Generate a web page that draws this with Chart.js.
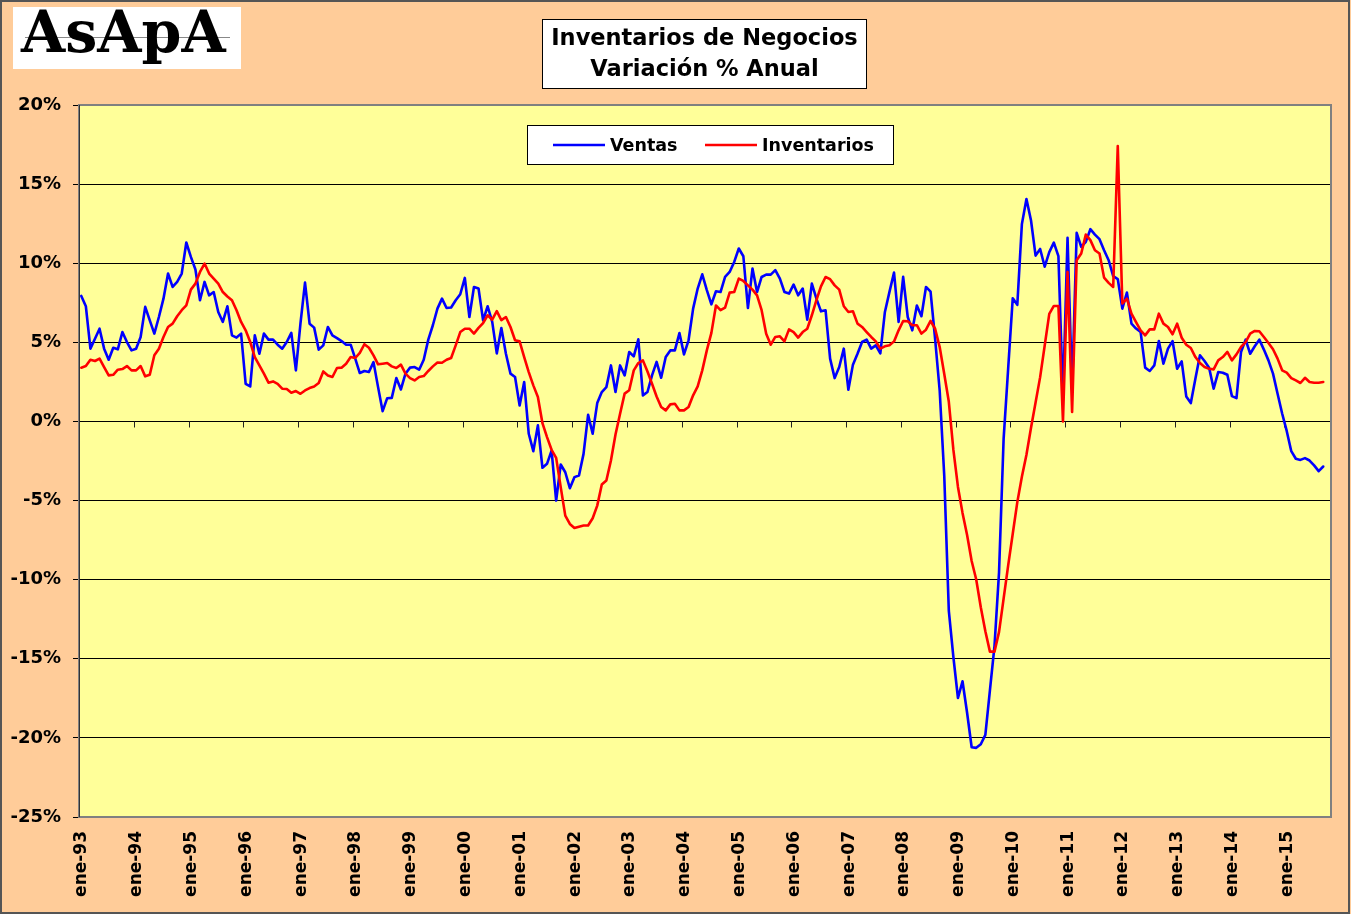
<!DOCTYPE html>
<html lang="es">
<head>
<meta charset="utf-8">
<title>Inventarios de Negocios</title>
<script src="https://cdn.jsdelivr.net/npm/chart.js@4.4.1/dist/chart.umd.min.js"></script>
<style>
  html, body { margin: 0; padding: 0; background: #FFCC99; }
  #grafico { display: block; }
</style>
</head>
<body>
<canvas id="grafico" width="1351" height="914"></canvas>
<script>
// Etiquetas del eje X (una por año, en enero)
const etiquetasAnio = ['ene-93', 'ene-94', 'ene-95', 'ene-96', 'ene-97', 'ene-98', 'ene-99', 'ene-00',
    'ene-01', 'ene-02', 'ene-03', 'ene-04', 'ene-05', 'ene-06', 'ene-07', 'ene-08', 'ene-09', 'ene-10',
    'ene-11', 'ene-12', 'ene-13', 'ene-14', 'ene-15'];

// Variación % anual mensual, ene-93 a sep-15 (una fila por año)
const ventas = [
    7.93, 7.28, 4.6, 5.23, 5.86, 4.6, 3.9, 4.66, 4.56, 5.65, 5.02, 4.49,
    4.6, 5.34, 7.24, 6.39, 5.55, 6.6, 7.76, 9.35, 8.5, 8.82, 9.35, 11.31,
    10.4, 9.6, 7.66, 8.82, 7.97, 8.18, 6.92, 6.29, 7.28, 5.44, 5.3, 5.55,
    2.38, 2.21, 5.44, 4.28, 5.55, 5.17, 5.17, 4.85, 4.6, 5.02, 5.6, 3.23,
    6.18, 8.78, 6.18, 5.93, 4.54, 4.81, 5.97, 5.44, 5.27, 5.08, 4.85, 4.85,
    3.97, 3.06, 3.19, 3.12, 3.75, 2.17, 0.65, 1.47, 1.49, 2.74, 2.02, 3.02,
    3.4, 3.44, 3.27, 3.9, 5.17, 6.08, 7.13, 7.76, 7.17, 7.2, 7.66, 8.04,
    9.07, 6.6, 8.5, 8.4, 6.39, 7.28, 6.29, 4.3, 5.9, 4.28, 3.02, 2.81,
    1.01, 2.49, -0.78, -1.88, -0.25, -2.93, -2.68, -1.84, -5.0, -2.72, -3.21, -4.22,
    -3.52, -3.42, -2.05, 0.42, -0.78, 1.16, 1.86, 2.17, 3.54, 1.86, 3.54, 2.91,
    4.39, 4.11, 5.19, 1.65, 1.86, 2.91, 3.76, 2.76, 4.07, 4.49, 4.49, 5.59,
    4.24, 5.13, 7.13, 8.4, 9.3, 8.3, 7.4, 8.23, 8.18, 9.13, 9.45, 10.08,
    10.93, 10.44, 7.17, 9.66, 8.18, 9.13, 9.28, 9.28, 9.56, 9.03, 8.18, 8.08,
    8.65, 7.97, 8.4, 6.43, 8.71, 7.76, 6.96, 7.03, 3.97, 2.74, 3.44, 4.6,
    2.0, 3.59, 4.28, 5.02, 5.17, 4.6, 4.81, 4.3, 6.92, 8.19, 9.41, 6.29,
    9.14, 6.6, 5.76, 7.33, 6.65, 8.5, 8.2, 5.2, 1.94, -3.44, -11.98, -14.9,
    -17.48, -16.42, -18.41, -20.59, -20.63, -20.4, -19.81, -17.0, -14.2, -9.52, -1.1, 3.35,
    7.79, 7.37, 12.47, 14.06, 12.7, 10.48, 10.9, 9.78, 10.7, 11.3, 10.45, 1.5,
    11.6, 2.0, 11.92, 11.03, 11.35, 12.15, 11.81, 11.52, 10.82, 10.19, 9.18, 9.0,
    7.13, 8.15, 6.18, 5.87, 5.66, 3.4, 3.19, 3.54, 5.08, 3.65, 4.6, 5.08,
    3.33, 3.8, 1.58, 1.16, 2.7, 4.18, 3.82, 3.4, 2.07, 3.12, 3.08, 2.95,
    1.6, 1.47, 4.39, 5.17, 4.28, 4.75, 5.17, 4.54, 3.86, 3.02, 1.75, 0.5,
    -0.6, -1.88, -2.36, -2.43, -2.32, -2.47, -2.78, -3.14, -2.85
];

const inventarios = [
    3.4, 3.5, 3.9, 3.82, 3.97, 3.44, 2.91, 2.95, 3.27, 3.31, 3.5, 3.23,
    3.23, 3.5, 2.85, 2.95, 4.18, 4.6, 5.34, 5.97, 6.18, 6.65, 7.03, 7.34,
    8.33, 8.71, 9.45, 9.98, 9.35, 9.03, 8.71, 8.18, 7.9, 7.66, 7.03, 6.29,
    5.76, 5.02, 4.07, 3.54, 3.02, 2.45, 2.53, 2.38, 2.07, 2.05, 1.81, 1.92,
    1.75, 1.96, 2.11, 2.21, 2.43, 3.16, 2.91, 2.81, 3.38, 3.4, 3.65, 4.07,
    4.01, 4.33, 4.88, 4.66, 4.18, 3.61, 3.65, 3.69, 3.48, 3.38, 3.59, 3.02,
    2.74, 2.59, 2.81, 2.87, 3.19, 3.48, 3.73, 3.71, 3.9, 4.01, 4.81, 5.65,
    5.86, 5.86, 5.55, 5.91, 6.22, 6.71, 6.43, 6.97, 6.4, 6.6, 5.97, 5.13,
    5.06, 4.07, 3.12, 2.28, 1.54, -0.11, -0.99, -1.79, -2.3, -4.15, -5.95, -6.48,
    -6.73, -6.65, -6.58, -6.58, -6.12, -5.32, -3.99, -3.73, -2.47, -0.82, 0.49, 1.76,
    1.97, 3.23, 3.69, 3.86, 3.16, 2.38, 1.58, 0.91, 0.7, 1.08, 1.12, 0.7,
    0.7, 0.91, 1.65, 2.22, 3.23, 4.49, 5.6, 7.33, 7.03, 7.2, 8.14, 8.18,
    9.03, 8.88, 8.6, 8.33, 7.97, 7.03, 5.55, 4.85, 5.34, 5.38, 5.06, 5.82,
    5.65, 5.3, 5.65, 5.86, 6.71, 7.66, 8.54, 9.13, 8.99, 8.6, 8.33, 7.28,
    6.92, 6.96, 6.18, 5.97, 5.65, 5.34, 5.06, 4.6, 4.75, 4.81, 5.06, 5.76,
    6.35, 6.33, 6.08, 6.08, 5.55, 5.8, 6.35, 5.86, 4.7, 3.0, 1.24, -1.8,
    -4.14, -5.78, -7.18, -8.82, -9.99, -11.74, -13.26, -14.55, -14.55, -13.3, -11.2, -9.1,
    -7.1, -5.1, -3.5, -2.1, -0.4, 1.2, 2.8, 4.8, 6.8, 7.3, 7.3, 0.0,
    9.45, 0.6, 10.19, 10.61, 11.81, 11.46, 10.82, 10.61, 9.09, 8.76, 8.5, 17.4,
    7.45, 7.76, 6.81, 6.28, 5.76, 5.44, 5.82, 5.82, 6.81, 6.18, 5.97, 5.51,
    6.18, 5.29, 4.85, 4.64, 4.07, 3.69, 3.44, 3.33, 3.29, 3.86, 4.07, 4.39,
    3.86, 4.24, 4.71, 5.02, 5.55, 5.72, 5.7, 5.34, 4.96, 4.56, 3.97, 3.23,
    3.08, 2.74, 2.59, 2.43, 2.76, 2.49, 2.45, 2.45, 2.49
];

const FUENTE = '"DejaVu Sans", "Liberation Sans", Arial, sans-serif';

// cada mes se dibuja en el centro de su intervalo (ene-93 empieza en 0)
const aPuntos = serie => serie.map((v, i) => ({ x: i + 0.5, y: v }));

// Fondo general y área de trazado amarilla
const fondo = {
    id: 'fondo',
    beforeDraw(chart) {
        const { ctx, chartArea: a, width, height } = chart;
        ctx.save();
        ctx.fillStyle = '#FFCC99';
        ctx.fillRect(0, 0, width, height);
        ctx.fillStyle = '#FFFF99';
        ctx.fillRect(a.left, a.top, a.right - a.left, a.bottom - a.top);
        ctx.restore();
    }
};

// Marcas del eje X sobre la línea del 0%
const marcasCero = {
    id: 'marcasCero',
    beforeDatasetsDraw(chart) {
        const { ctx, scales: { x, y } } = chart;
        const y0 = Math.round(y.getPixelForValue(0)) + 0.5;
        ctx.save();
        ctx.strokeStyle = '#222';
        ctx.lineWidth = 1;
        ctx.beginPath();
        x.ticks.forEach(t => {
            const px = Math.round(x.getPixelForValue(t.value)) + 0.5;
            ctx.moveTo(px, y0);
            ctx.lineTo(px, y0 + 6);
        });
        ctx.stroke();
        ctx.restore();
    }
};

// Marco, logo, título y leyenda
const adornos = {
    id: 'adornos',
    afterDraw(chart) {
        const { ctx, chartArea: a, width, height } = chart;
        ctx.save();

        // marco del área de trazado
        ctx.strokeStyle = '#808080';
        ctx.lineWidth = 2;
        ctx.strokeRect(a.left, a.top, a.right - a.left, a.bottom - a.top);
        ctx.strokeStyle = '#333';
        ctx.lineWidth = 1;
        ctx.beginPath();
        ctx.moveTo(a.left + 0.5, a.top);
        ctx.lineTo(a.left + 0.5, a.bottom);
        ctx.stroke();

        // borde exterior
        ctx.strokeStyle = '#555';
        ctx.lineWidth = 2;
        ctx.strokeRect(1, 1, width - 3, height - 2);

        // logo
        ctx.fillStyle = '#fff';
        ctx.fillRect(13, 7, 228, 62);
        ctx.strokeStyle = '#888';
        ctx.lineWidth = 1;
        ctx.beginPath();
        ctx.moveTo(25, 37.5);
        ctx.lineTo(230, 37.5);
        ctx.stroke();
        ctx.fillStyle = '#000';
        ctx.font = 'bold 57px "DejaVu Serif", "Liberation Serif", serif';
        ctx.textAlign = 'left';
        ctx.textBaseline = 'alphabetic';
        ctx.fillText('AsApA', 21, 52);

        // título
        ctx.fillStyle = '#fff';
        ctx.fillRect(542.5, 19.5, 324, 69);
        ctx.strokeStyle = '#000';
        ctx.strokeRect(542.5, 19.5, 324, 69);
        ctx.fillStyle = '#000';
        ctx.font = 'bold 22.5px ' + FUENTE;
        ctx.textAlign = 'center';
        ctx.textBaseline = 'middle';
        ctx.fillText('Inventarios de Negocios', 704.5, 39);
        ctx.fillText('Variación % Anual', 704.5, 70);

        // leyenda
        ctx.fillStyle = '#fff';
        ctx.fillRect(527.5, 125.5, 366, 39);
        ctx.strokeRect(527.5, 125.5, 366, 39);
        const items = [
            { ds: chart.data.datasets[0], x0: 553, x1: 605, tx: 610 },
            { ds: chart.data.datasets[1], x0: 705, x1: 757, tx: 762 }
        ];
        ctx.font = 'bold 17.5px ' + FUENTE;
        ctx.textAlign = 'left';
        items.forEach(it => {
            ctx.strokeStyle = it.ds.borderColor;
            ctx.lineWidth = 2.6;
            ctx.beginPath();
            ctx.moveTo(it.x0, 145);
            ctx.lineTo(it.x1, 145);
            ctx.stroke();
            ctx.fillStyle = '#000';
            ctx.fillText(it.ds.label, it.tx, 146);
        });
        ctx.restore();
    }
};

new Chart(document.getElementById('grafico'), {
    type: 'line',
    data: {
        datasets: [{
            label: 'Ventas',
            data: aPuntos(ventas),
            borderColor: '#0000FF',
            borderWidth: 2.6,
            order: 2
        }, {
            label: 'Inventarios',
            data: aPuntos(inventarios),
            borderColor: '#FF0000',
            borderWidth: 2.6,
            order: 1
        }]
    },
    options: {
        responsive: false,
        animation: false,
        devicePixelRatio: 1,
        layout: { padding: { top: 105, right: 20, left: 0, bottom: 0 } },
        elements: {
            point: { radius: 0 },
            line: { tension: 0, borderJoinStyle: 'round', borderCapStyle: 'round' }
        },
        plugins: {
            legend: { display: false },
            title: { display: false },
            tooltip: { enabled: false }
        },
        scales: {
            x: {
                type: 'linear',
                min: 0,
                max: 274.2,
                afterBuildTicks: scale => {
                    scale.ticks = etiquetasAnio.map((e, i) => ({ value: i * 12 }));
                },
                afterFit: scale => { scale.height = 97; },
                grid: { display: false, drawTicks: false },
                border: { display: false },
                ticks: {
                    autoSkip: false,
                    maxRotation: 90,
                    minRotation: 90,
                    padding: 14,
                    labelOffset: 3,
                    color: '#000',
                    font: { family: FUENTE, size: 17, weight: 'bold' },
                    callback: (v, i) => etiquetasAnio[i]
                }
            },
            y: {
                min: -25,
                max: 20,
                afterFit: scale => { scale.width = 79; },
                grid: { color: '#000', lineWidth: 1, tickLength: 6, drawTicks: true },
                border: { display: false },
                ticks: {
                    stepSize: 5,
                    padding: 12,
                    color: '#000',
                    font: { family: FUENTE, size: 18, weight: 'bold' },
                    callback: v => v + '%'
                }
            }
        }
    },
    plugins: [fondo, marcasCero, adornos]
});
</script>
</body>
</html>
